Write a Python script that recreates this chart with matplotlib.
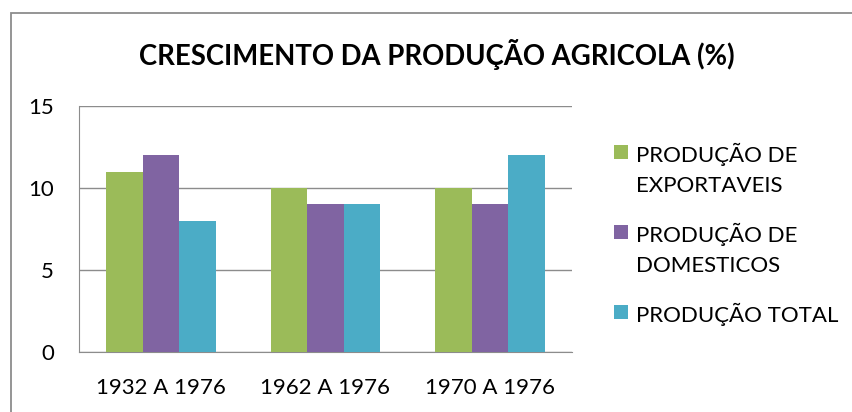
import matplotlib
matplotlib.use("Agg")
import matplotlib.pyplot as plt
import numpy as np
from matplotlib.patches import Rectangle

categories = ["1932 A 1976", "1962 A 1976", "1970 A 1976"]
series_names = [["PRODUÇÃO DE", "EXPORTAVEIS"], ["PRODUÇÃO DE", "DOMESTICOS"], ["PRODUÇÃO TOTAL"]]
exportaveis = [11, 10, 10]
domesticos = [12, 9, 9]
total = [8, 9, 12]
title = "CRESCIMENTO DA PRODUÇÃO AGRICOLA (%)"

colors = ["#9BBB59", "#8064A2", "#4BACC6"]
plt.rcParams['font.family'] = ['Lato', 'DejaVu Sans']

W, H = 852, 412
fig = plt.figure(figsize=(W / 100, H / 100), dpi=100)
fig.patch.set_facecolor("white")
# chart border
fig.patches.append(Rectangle((11 / W, -0.1), 1.0, (H - 13) / H + 0.1, transform=fig.transFigure,
                             fill=False, edgecolor="#8c8c8c", linewidth=1.3))

ax = fig.add_axes([79 / W, (H - 352) / H, (572 - 79) / W, (352 - 106) / H])
x = np.arange(len(categories))
w = 0.223
for i, vals in enumerate([exportaveis, domesticos, total]):
    ax.bar(x + (i - 1) * w, vals, width=w, color=colors[i], label=" ".join(series_names[i]), zorder=3)

ax.set_xlim(-0.5, 2.5)
ax.set_ylim(0, 15)
ax.set_yticks([0, 5, 10, 15])
ax.yaxis.grid(True, color="#8c8c8c", linewidth=1.0, zorder=0)
ax.set_xticks(x)
ax.set_xticklabels(categories)
ax.tick_params(axis="both", length=0, labelsize=16, colors="#000000")
ax.tick_params(axis="y", pad=18)
ax.tick_params(axis="x", pad=19)
for s in ["top", "right"]:
    ax.spines[s].set_visible(False)
ax.spines["left"].set_color("#8c8c8c")
ax.spines["bottom"].set_color("#8c8c8c")

fig.text(437 / W, 1 - 55 / H, title, ha="center", va="center", fontsize=19.8, fontweight="bold")

# legend (manual, so the key square sits beside the first line as in the reference)
entry_tops = [152, 232, 312]
line_gap = 32
for i, lines in enumerate(series_names):
    y0 = entry_tops[i]
    fig.patches.append(Rectangle((614 / W, 1 - (y0 + 7) / H), 14 / W, 14 / H,
                                 transform=fig.transFigure, facecolor=colors[i], edgecolor="none"))
    for j, line in enumerate(lines):
        fig.text(636 / W, 1 - (y0 + j * line_gap) / H, line, ha="left", va="center_baseline",
                 fontsize=16, color="#000000")

fig.savefig("out.png", dpi=100)
